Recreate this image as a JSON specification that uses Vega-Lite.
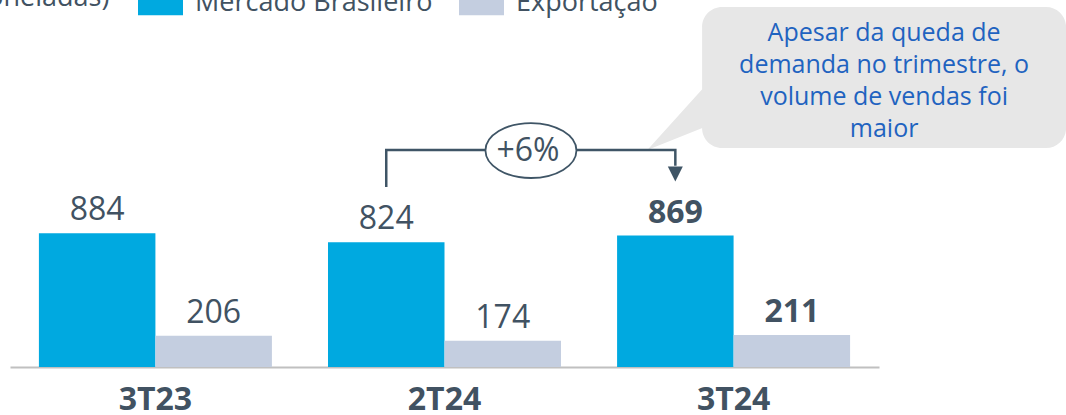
{
  "$schema": "https://vega.github.io/schema/vega-lite/v6.json",
  "width": 869,
  "height": 367,
  "autosize": "none",
  "padding": {"left": 10, "top": 0, "right": 187, "bottom": 48},
  "config": {
    "view": {"stroke": null},
    "font": "Open Sans",
    "text": {"font": "Open Sans"}
  },
  "datasets": {
    "volumes": [
      {"trimestre": "3T23", "mercado": "Mercado Brasileiro", "mil_t": 884, "destaque": false},
      {"trimestre": "3T23", "mercado": "Exportação", "mil_t": 206, "destaque": false},
      {"trimestre": "2T24", "mercado": "Mercado Brasileiro", "mil_t": 824, "destaque": false},
      {"trimestre": "2T24", "mercado": "Exportação", "mil_t": 174, "destaque": false},
      {"trimestre": "3T24", "mercado": "Mercado Brasileiro", "mil_t": 869, "destaque": true},
      {"trimestre": "3T24", "mercado": "Exportação", "mil_t": 211, "destaque": true}
    ],
    "colchete": [
      {"trimestre": "2T24", "nivel": 1190, "ordem": 1},
      {"trimestre": "2T24", "nivel": 1434, "ordem": 2},
      {"trimestre": "3T24", "nivel": 1434, "ordem": 3},
      {"trimestre": "3T24", "nivel": 1330, "ordem": 4}
    ]
  },
  "layer": [
    {
      "data": {"name": "volumes"},
      "mark": {"type": "bar"},
      "encoding": {
        "x": {
          "field": "trimestre", "type": "nominal", "sort": ["3T23", "2T24", "3T24"],
          "scale": {"paddingInner": 0.194, "paddingOuter": 0.1},
          "axis": {
            "title": null, "labelAngle": 0, "ticks": false, "labelPadding": 17,
            "labelFont": "Open Sans", "labelFontSize": 32, "labelFontWeight": "bold", "labelColor": "#415262",
            "domainColor": "#c0c0c0", "domainWidth": 2, "grid": false
          }
        },
        "xOffset": {
          "field": "mercado", "type": "nominal", "sort": ["Mercado Brasileiro", "Exportação"],
          "scale": {"paddingInner": 0, "paddingOuter": 0}
        },
        "y": {
          "field": "mil_t", "type": "quantitative",
          "scale": {"domain": [0, 2426], "nice": false, "zero": true},
          "axis": null
        },
        "color": {
          "field": "mercado", "type": "nominal", "sort": ["Mercado Brasileiro", "Exportação"],
          "scale": {"domain": ["Mercado Brasileiro", "Exportação"], "range": ["#00A9E0", "#C4CEE0"]},
          "legend": {
            "orient": "none", "legendX": -86, "legendY": -20, "direction": "horizontal",
            "title": "(mil toneladas)", "titleOrient": "left", "titleFont": "Open Sans", "titleFontSize": 27,
            "titleFontWeight": "normal", "titleColor": "#415262", "titlePadding": 28, "titleBaseline": "middle", "titleLimit": 0,
            "labelFont": "Open Sans", "labelFontSize": 27, "labelColor": "#415262", "labelOffset": 12, "labelLimit": 0,
            "columnPadding": 26, "padding": 0,
            "symbolType": "M-1,-1.44L1,-1.44L1,0.56L-1,0.56Z", "symbolSize": 2025, "symbolStrokeWidth": 0, "symbolOpacity": 1
          }
        }
      }
    },
    {
      "data": {"name": "volumes"},
      "transform": [{"filter": "!datum.destaque"}],
      "mark": {"type": "text", "font": "Open Sans", "fontSize": 32, "color": "#415262", "baseline": "alphabetic", "dy": -13},
      "encoding": {
        "x": {"field": "trimestre", "type": "nominal", "sort": ["3T23", "2T24", "3T24"]},
        "xOffset": {"field": "mercado", "type": "nominal", "sort": ["Mercado Brasileiro", "Exportação"]},
        "y": {"field": "mil_t", "type": "quantitative"},
        "text": {"field": "mil_t", "type": "quantitative"}
      }
    },
    {
      "data": {"name": "volumes"},
      "transform": [{"filter": "datum.destaque"}],
      "mark": {"type": "text", "font": "Open Sans", "fontSize": 32, "fontWeight": "bold", "color": "#415262", "baseline": "alphabetic", "dy": -13},
      "encoding": {
        "x": {"field": "trimestre", "type": "nominal", "sort": ["3T23", "2T24", "3T24"]},
        "xOffset": {"field": "mercado", "type": "nominal", "sort": ["Mercado Brasileiro", "Exportação"]},
        "y": {"field": "mil_t", "type": "quantitative"},
        "text": {"field": "mil_t", "type": "quantitative"}
      }
    },
    {
      "data": {"values": [{}]},
      "mark": {
        "type": "point", "filled": true, "opacity": 1, "color": "#E7E7E7", "size": 4, "strokeWidth": 0,
        "shape": "M46.75,-143L370.75,-143A20,20,0,0,1,390.75,-123L390.75,-22A20,20,0,0,1,370.75,-2L46.75,-2A20,20,0,0,1,26.75,-22L26.75,-123A20,20,0,0,1,46.75,-143Z M-28,0L37,-72L37,-26Z"
      },
      "encoding": {
        "x": {"datum": "3T24", "bandPosition": 0.25},
        "y": {"datum": 1434, "type": "quantitative"}
      }
    },
    {
      "data": {"name": "colchete"},
      "mark": {"type": "line", "color": "#3F5566", "strokeWidth": 2.5, "strokeJoin": "miter", "strokeCap": "butt"},
      "encoding": {
        "x": {"field": "trimestre", "type": "nominal", "bandPosition": 0.25, "sort": ["3T23", "2T24", "3T24"]},
        "y": {"field": "nivel", "type": "quantitative"},
        "order": {"field": "ordem", "type": "quantitative"}
      }
    },
    {
      "data": {"values": [{}]},
      "mark": {"type": "point", "filled": true, "opacity": 1, "color": "#3F5566", "size": 225, "strokeWidth": 0, "shape": "M-1,-1L1,-1L0,1Z"},
      "encoding": {
        "x": {"datum": "3T24", "bandPosition": 0.25},
        "y": {"datum": 1276, "type": "quantitative"}
      }
    },
    {
      "data": {"values": [{}]},
      "mark": {"type": "point", "filled": false, "opacity": 1, "fill": "#FFFFFF", "fillOpacity": 1, "stroke": "#3F5566", "strokeWidth": 1.8, "size": 8281, "shape": "M-1,0A1,0.604,0,1,1,1,0A1,0.604,0,1,1,-1,0Z"},
      "encoding": {
        "x": {"datum": "2T24", "bandPosition": 0.871},
        "y": {"datum": 1431, "type": "quantitative"}
      }
    },
    {
      "data": {"values": [{}]},
      "mark": {"type": "text", "font": "Open Sans", "fontSize": 32, "color": "#415262", "baseline": "middle", "align": "center", "dx": -3},
      "encoding": {
        "x": {"datum": "2T24", "bandPosition": 0.871},
        "y": {"datum": 1431, "type": "quantitative"},
        "text": {"value": "+6%"}
      }
    },
    {
      "data": {"values": [{}]},
      "mark": {"type": "text", "font": "Open Sans", "fontSize": 25, "color": "#1F63C0", "baseline": "alphabetic", "align": "center", "lineHeight": 32, "dx": 34},
      "encoding": {
        "x": {"datum": "3T24", "bandPosition": 1},
        "y": {"datum": 2157, "type": "quantitative"},
        "text": {"value": ["Apesar da queda de", "demanda no trimestre, o", "volume de vendas foi", "maior"]}
      }
    }
  ]
}
